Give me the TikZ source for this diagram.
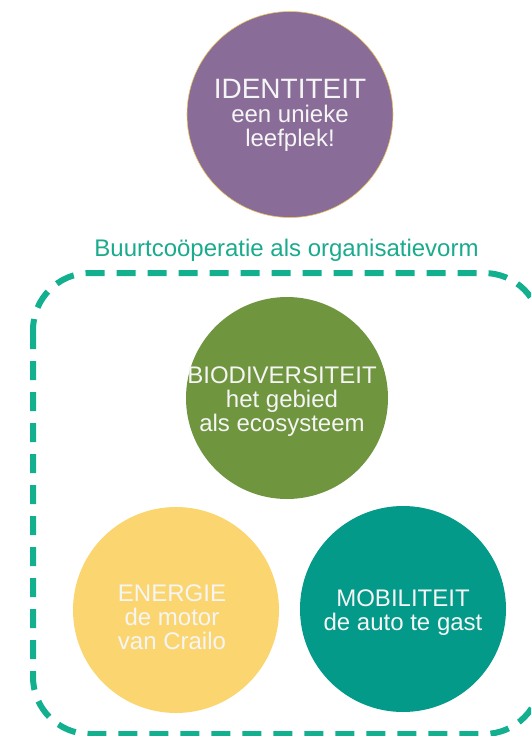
\documentclass[tikz,border=0pt]{standalone}
\usepackage{fontspec}
\setmainfont{Liberation Sans}
\usepackage{xcolor}
\definecolor{paars}{HTML}{896C98}
\definecolor{groen}{HTML}{70953F}
\definecolor{geel}{HTML}{FBD670}
\definecolor{petrol}{HTML}{039A89}
\definecolor{munt}{HTML}{13B08F}
\definecolor{munttekst}{HTML}{1AAA8C}
\definecolor{goud}{HTML}{EBC45A}

\begin{document}
\begin{tikzpicture}[x=1pt,y=-1pt,
  bol/.style={circle,inner sep=0pt,minimum size=206pt},
  tekst/.style={text=white!96!black,align=center,font=\fontsize{24}{24}\selectfont}]
  \useasboundingbox (0,0) rectangle (531,736);
  \clip (0,0) rectangle (531,736);
  \node[bol,fill=paars,draw=goud,line width=0.6pt] (identiteit) at (290,114.5) {};
  \node[tekst] (identiteit-t) at ([yshift=-1pt]identiteit) {{\fontsize{28}{28}\selectfont IDENTITEIT}\\een unieke\\leefplek!};
  \node[text=munttekst,font=\fontsize{24}{24}\selectfont,anchor=base] (vorm) at (286.5,256) {Buurtcoöperatie als organisatievorm};
  \draw[munt,line width=6pt,dash pattern=on 19pt off 12pt,rounded corners=57pt] (33,273) rectangle (541,734);
  \node[bol,fill=groen,minimum size=202pt] (bio) at (287,398) {};
  \node[tekst] (bio-t) at ([xshift=-5pt,yshift=-4pt]bio) {BIODIVERSITEIT\\het gebied\\als ecosysteem};
  \node[bol,fill=geel] (energie) at (176,610) {};
  \node[tekst] (energie-t) at ([xshift=-4pt,yshift=-7.5pt]energie) {ENERGIE\\de motor\\van Crailo};
  \node[bol,fill=petrol] (mobiliteit) at (403,609) {};
  \node[tekst] (mobiliteit-t) at ([yshift=-3.5pt]mobiliteit) {MOBILITEIT\\de auto te gast};
\end{tikzpicture}
\end{document}
